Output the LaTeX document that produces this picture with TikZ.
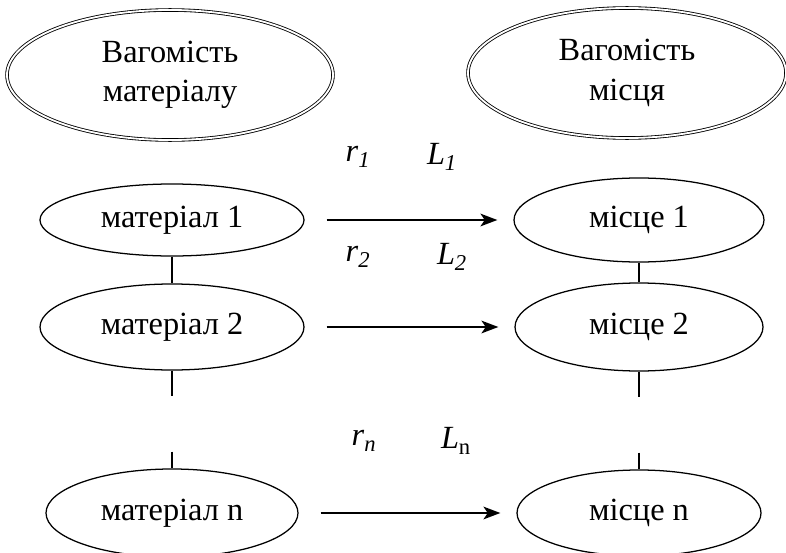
\documentclass[tikz,border=0pt]{standalone}
\usepackage{fontspec}
\setmainfont{Liberation Serif}
\usetikzlibrary{shapes.geometric,arrows.meta}

\tikzset{
  weight/.style={draw, ellipse, double, double distance=1.3pt, line width=0.6pt,
    align=center, inner sep=0pt},
  item/.style={draw, ellipse, line width=0.9pt, inner sep=0pt},
  flow/.style={-{Stealth[length=12pt,width=9pt,inset=3pt]}, line width=1.4pt,
    shorten <=0.55cm, shorten >=0.4cm},
  chain/.style={line width=1pt},
  gap/.style={line width=1pt, dash pattern=on 0.625cm off 1.4cm on 0.5cm},
}

\begin{document}
\begin{tikzpicture}[font=\fontsize{23}{28}\selectfont]
    \useasboundingbox (0,0) rectangle (19.65,-13.825);

    \node[weight, minimum width=8.15cm, minimum height=3.25cm] (wmat) at (4.25, -1.875) {Вагомість\\матеріалу};
    \node[weight, minimum width=7.95cm, minimum height=3.25cm] (wpl) at (15.675, -1.825) {Вагомість\\місця};

    \node[item, minimum width=6.6cm, minimum height=1.8cm] (mat1) at (4.3, -5.5) {матеріал 1};
    \node[item, minimum width=6.6cm, minimum height=2.15cm] (mat2) at (4.3, -8.175) {матеріал 2};
    \node[item, minimum width=6.3cm, minimum height=2.2cm] (matn) at (4.3, -12.825) {матеріал n};

    \node[item, minimum width=6.25cm, minimum height=2.1cm] (pl1) at (15.975, -5.5) {місце 1};
    \node[item, minimum width=6.2cm, minimum height=2.2cm] (pl2) at (15.975, -8.175) {місце 2};
    \node[item, minimum width=6.1cm, minimum height=2.15cm] (pln) at (15.975, -12.825) {місце n};

    \node (r1) at (8.95, -3.92) {\textit{r}\textsubscript{\textit{1}}};
    \node (L1) at (11.05, -3.92) {\textit{L}\textsubscript{\textit{1}}};
    \node (r2) at (8.95, -6.42) {\textit{r}\textsubscript{\textit{2}}};
    \node (L2) at (11.3, -6.42) {\textit{L}\textsubscript{\textit{2}}};
    \node (rn) at (9.1, -11.02) {\textit{r}\textsubscript{\textit{n}}};
    \node (Ln) at (11.4, -11.02) {\textit{L}\textsubscript{n}};

    \draw[flow] (mat1) -- (pl1);
    \draw[flow] (mat2) -- (pl2);
    \draw[flow] (matn) -- (pln);

    \draw[chain] (mat1) -- (mat2);
    \draw[chain] (pl1) -- (pl2);
    \draw[gap] (mat2) -- (matn);
    \draw[gap] (pl2) -- (pln);
  \end{tikzpicture}
\end{document}
